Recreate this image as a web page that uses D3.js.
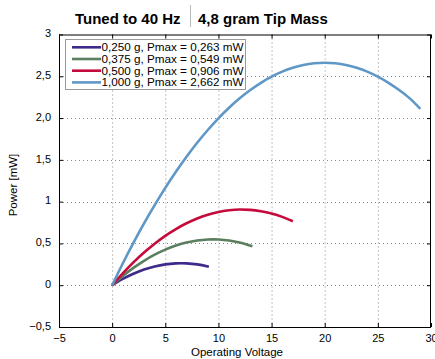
<!DOCTYPE html>
<html><head><meta charset="utf-8">
<script src="https://cdn.jsdelivr.net/npm/d3@7"></script>
<style>body{margin:0;background:#fff}svg{display:block}</style>
</head><body><svg id="c" width="435" height="359"></svg>
<script>
const xTicks = [-5,0,5,10,15,20,25,30];
const xTickLabels = ["\u22125","0","5","10","15","20","25","30"];
const yTicks = [-0.5,0,0.5,1,1.5,2,2.5,3];
const yTickLabels = ["\u22120,5","0","0,5","1","1,5","2,0","2,5","3"];
const seriesNames = ["0,250 g, Pmax = 0,263 mW","0,375 g, Pmax = 0,549 mW","0,500 g, Pmax = 0,906 mW","1,000 g, Pmax = 2,662 mW"];
const seriesColors = ["#3f2a8c","#5b7f5e","#c40b3b","#5f97c7"];
const v1 = [0,1,2,3,4,5,6,6.5,7,8,9,9.1];
const p1 = [0,0.075,0.137,0.187,0.224,0.249,0.261,0.263,0.261,0.249,0.224,0.221];
const v2 = [0,1,2,3,4,5,6,7,8,9,9.5,10,11,12,13,13.2];
const p2 = [0,0.110,0.207,0.292,0.365,0.426,0.474,0.511,0.535,0.547,0.549,0.547,0.535,0.511,0.474,0.466];
const v3 = [0,1,2,3,4,5,6,7,8,9,10,11,12,13,14,15,16,17];
const p3 = [0,0.142,0.273,0.391,0.497,0.591,0.672,0.741,0.799,0.844,0.877,0.897,0.906,0.902,0.886,0.858,0.818,0.766];
const v4 = [0,1,2,3,4,5,6,7,8,9,10,11,12,13,14,15,16,17,18,19,20,21,22,23,24,25,26,27,28,29];
const p4 = [0,0.260,0.506,0.739,0.958,1.165,1.358,1.537,1.704,1.857,1.997,2.123,2.236,2.336,2.422,2.496,2.556,2.602,2.635,2.655,2.662,2.655,2.635,2.602,2.556,2.496,2.422,2.336,2.236,2.11];
const seriesV = [v1,v2,v3,v4];
const seriesP = [p1,p2,p3,p4];

const svg = d3.select("#c");
const L=59, R=431, T=34.5, B=327;
const x = d3.scaleLinear().domain([-5,30]).range([L,R]);
const y = d3.scaleLinear().domain([-0.5,3]).range([B,T]);
const font = "'Liberation Sans', Arial, sans-serif";

// grid
const g = svg.append("g");
g.selectAll(".gx").data(xTicks.slice(1,-1)).enter().append("line")
  .attr("x1",d=>x(d)+0.5).attr("x2",d=>x(d)+0.5).attr("y1",T).attr("y2",B)
  .attr("stroke","#888").attr("stroke-width",1).attr("stroke-dasharray","1,3");
g.selectAll(".gy").data(yTicks.slice(1,-1)).enter().append("line")
  .attr("y1",d=>Math.round(y(d))+0.5).attr("y2",d=>Math.round(y(d))+0.5).attr("x1",L).attr("x2",R)
  .attr("stroke","#888").attr("stroke-width",1).attr("stroke-dasharray","1,3");

// axes with inner ticks
const fmtX = d => xTickLabels[xTicks.indexOf(d)];
const fmtY = d => yTickLabels[yTicks.indexOf(d)];
const ax = svg.append("g").attr("transform",`translate(0,${B})`)
  .call(d3.axisBottom(x).tickValues(xTicks).tickSize(-4).tickPadding(6).tickFormat(fmtX));
const axT = svg.append("g").attr("transform",`translate(0,${T})`)
  .call(d3.axisTop(x).tickValues(xTicks).tickSize(-4).tickFormat(""));
const ay = svg.append("g").attr("transform",`translate(${L},0)`)
  .call(d3.axisLeft(y).tickValues(yTicks).tickSize(-4).tickPadding(8).tickFormat(fmtY));
const ayR = svg.append("g").attr("transform",`translate(${R},0)`)
  .call(d3.axisRight(y).tickValues(yTicks).tickSize(-4).tickFormat(""));
[ax,axT,ay,ayR].forEach(a=>{a.select(".domain").remove();a.selectAll("line").attr("stroke","#000");
  a.selectAll("text").attr("font-family",font).attr("font-size","11px").attr("fill","#000");});
ay.selectAll("text").attr("dy","0.2em");
ax.selectAll("text").attr("dy","0.8em");

svg.append("rect").attr("x",L+0.5).attr("y",T+0.5).attr("width",R-L-1).attr("height",B-T)
  .attr("fill","none").attr("stroke","#000").attr("stroke-width",1);

// lines
const line = d3.line().x(d=>x(d[0])).y(d=>y(d[1])).curve(d3.curveMonotoneX);
seriesV.forEach((vs,i)=>{
  const pts = vs.map((v,j)=>[v,seriesP[i][j]]);
  svg.append("path").datum(pts).attr("d",line).attr("fill","none")
    .attr("stroke",seriesColors[i]).attr("stroke-width",2.6);
});

// legend
const lg = svg.append("g");
lg.append("rect").attr("x",65.5).attr("y",39.5).attr("width",180).attr("height",50)
  .attr("fill","#fff").attr("stroke","#999").attr("stroke-width",1);
seriesNames.forEach((n,i)=>{
  const yy = 47.3 + i*11.7;
  lg.append("line").attr("x1",72).attr("x2",101).attr("y1",yy).attr("y2",yy)
    .attr("stroke",seriesColors[i]).attr("stroke-width",2.6);
  lg.append("text").attr("x",101.5).attr("y",yy+4).text(n)
    .attr("font-family",font).attr("font-size","11.7px").attr("fill","#000");
});

// titles
svg.append("text").attr("x",75).attr("y",24).text("Tuned to 40 Hz")
  .attr("font-family",font).attr("font-size","15px").attr("font-weight","bold");
svg.append("line").attr("x1",190.5).attr("x2",190.5).attr("y1",5).attr("y2",27)
  .attr("stroke","#bbb").attr("stroke-width",1);
svg.append("text").attr("x",198).attr("y",24).text("4,8 gram Tip Mass")
  .attr("font-family",font).attr("font-size","15px").attr("font-weight","bold");

svg.append("text").attr("x",237).attr("y",356).attr("text-anchor","middle").text("Operating Voltage")
  .attr("font-family",font).attr("font-size","11.5px");
svg.append("text").attr("transform","translate(17,185) rotate(-90)").attr("text-anchor","middle").text("Power [mW]")
  .attr("font-family",font).attr("font-size","11.5px");
</script></body></html>
